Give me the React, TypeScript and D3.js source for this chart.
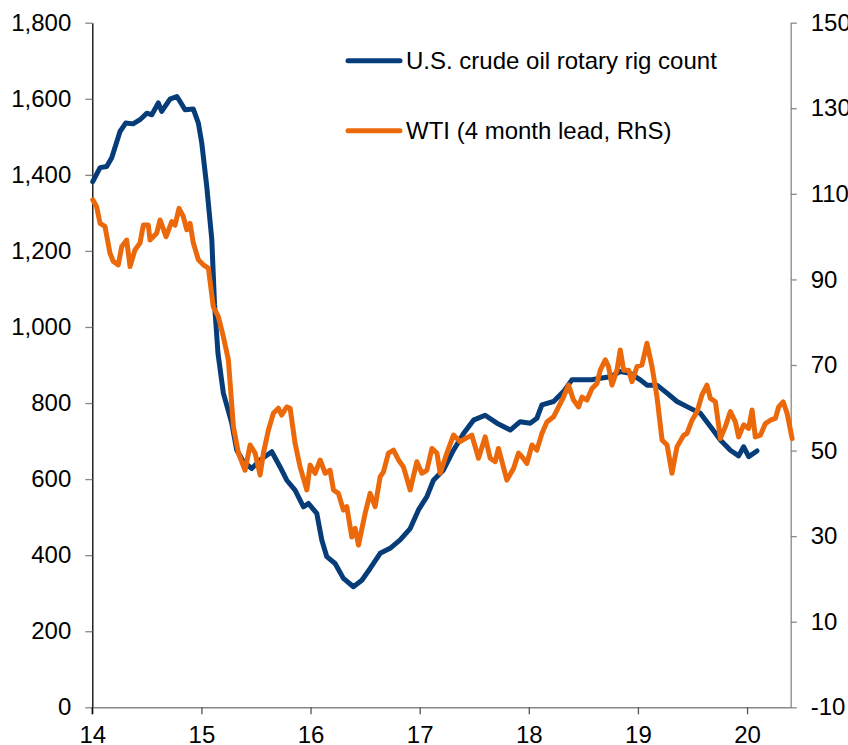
import * as d3 from 'd3';
import React, { useEffect, useRef } from 'react';

const rigYears = [14.004, 14.071, 14.132, 14.178, 14.254, 14.306, 14.373, 14.437, 14.499, 14.545, 14.605, 14.636, 14.712, 14.774, 14.804, 14.85, 14.926, 14.972, 15.003, 15.049, 15.095, 15.12, 15.152, 15.201, 15.278, 15.324, 15.384, 15.461, 15.538, 15.645, 15.721, 15.782, 15.858, 15.935, 15.98, 16.057, 16.103, 16.149, 16.225, 16.301, 16.393, 16.47, 16.546, 16.638, 16.729, 16.821, 16.913, 16.989, 17.066, 17.126, 17.218, 17.31, 17.402, 17.493, 17.6, 17.708, 17.83, 17.921, 18.013, 18.074, 18.12, 18.227, 18.318, 18.395, 18.502, 18.579, 18.655, 18.747, 18.838, 18.93, 19.022, 19.083, 19.175, 19.267, 19.358, 19.481, 19.572, 19.664, 19.756, 19.847, 19.923, 19.969, 20.015, 20.091];
const rigCount = [1382, 1419, 1422, 1445, 1514, 1536, 1534, 1545, 1562, 1558, 1589, 1567, 1599, 1606, 1593, 1571, 1573, 1536, 1484, 1369, 1230, 1060, 930, 826, 747, 676, 646, 628, 650, 672, 632, 597, 571, 527, 536, 510, 440, 396, 378, 339, 317, 334, 365, 405, 418, 440, 470, 519, 554, 597, 624, 676, 720, 755, 768, 747, 729, 751, 747, 760, 795, 804, 830, 861, 861, 861, 865, 869, 883, 878, 861, 847, 847, 826, 804, 786, 773, 738, 703, 676, 661, 685, 659, 674];

const wtiYears = [14.004, 14.04, 14.071, 14.116, 14.162, 14.193, 14.238, 14.27, 14.315, 14.346, 14.391, 14.437, 14.468, 14.513, 14.529, 14.59, 14.621, 14.676, 14.728, 14.758, 14.795, 14.834, 14.866, 14.896, 14.926, 14.972, 15.018, 15.064, 15.109, 15.155, 15.201, 15.247, 15.293, 15.339, 15.4, 15.446, 15.492, 15.538, 15.568, 15.614, 15.659, 15.705, 15.736, 15.782, 15.813, 15.858, 15.904, 15.966, 15.996, 16.042, 16.088, 16.134, 16.179, 16.21, 16.255, 16.301, 16.332, 16.378, 16.409, 16.439, 16.5, 16.546, 16.592, 16.638, 16.668, 16.714, 16.76, 16.806, 16.851, 16.913, 16.974, 17.02, 17.066, 17.112, 17.158, 17.188, 17.249, 17.31, 17.371, 17.417, 17.478, 17.539, 17.6, 17.646, 17.692, 17.722, 17.799, 17.86, 17.906, 17.936, 17.983, 18.029, 18.074, 18.12, 18.166, 18.227, 18.273, 18.318, 18.364, 18.41, 18.456, 18.487, 18.533, 18.579, 18.625, 18.655, 18.701, 18.731, 18.762, 18.808, 18.838, 18.869, 18.915, 18.946, 18.991, 19.037, 19.083, 19.129, 19.175, 19.221, 19.267, 19.312, 19.358, 19.419, 19.45, 19.496, 19.542, 19.587, 19.633, 19.664, 19.71, 19.756, 19.801, 19.847, 19.893, 19.923, 19.969, 20.015, 20.046, 20.076, 20.122, 20.168, 20.214, 20.259, 20.29, 20.331, 20.367, 20.413];
const wtiPrice = [108.6, 107.0, 103.1, 102.4, 96.1, 94.2, 93.4, 97.7, 99.2, 93.0, 96.9, 98.5, 102.7, 102.7, 99.2, 100.8, 103.9, 100.0, 103.5, 102.7, 106.6, 104.7, 101.6, 103.1, 98.5, 94.6, 93.4, 92.6, 83.6, 81.3, 76.6, 71.2, 55.6, 49.4, 45.4, 51.3, 49.4, 44.3, 49.4, 54.8, 58.7, 59.9, 58.3, 60.2, 59.9, 51.7, 46.2, 40.8, 46.6, 44.7, 47.8, 44.7, 45.4, 40.8, 40.0, 36.1, 36.9, 29.8, 31.8, 27.9, 35.3, 40.0, 36.9, 43.9, 45.0, 49.4, 50.1, 47.8, 46.2, 40.8, 47.4, 44.7, 45.4, 50.5, 49.4, 44.7, 49.4, 53.6, 52.1, 52.8, 53.6, 48.2, 53.2, 48.2, 47.4, 50.5, 43.1, 45.8, 49.4, 48.6, 47.0, 51.3, 50.1, 54.0, 56.7, 57.9, 60.2, 62.5, 65.3, 61.8, 60.2, 62.5, 61.8, 64.5, 65.7, 68.8, 71.2, 69.6, 65.3, 68.8, 73.5, 68.8, 68.8, 66.1, 69.6, 70.0, 75.1, 69.6, 62.5, 52.5, 51.3, 44.7, 50.9, 53.6, 54.0, 57.1, 59.1, 63.0, 65.3, 62.2, 61.4, 52.8, 55.6, 59.1, 56.7, 53.2, 56.0, 55.2, 59.5, 53.2, 53.6, 56.3, 57.1, 57.5, 60.2, 61.4, 58.7, 52.8];

const yearTicks = [14, 15, 16, 17, 18, 19, 20];
const leftTicks = [0, 200, 400, 600, 800, 1000, 1200, 1400, 1600, 1800];
const rightTicks = [-10, 10, 30, 50, 70, 90, 110, 130, 150];

const seriesNames = ['U.S. crude oil rotary rig count', 'WTI (4 month lead, RhS)'];
const seriesColors = ['#063d79', '#ec690b'];

const App = () => {
  const svgRef = useRef<SVGSVGElement | null>(null);

  useEffect(() => {
    if (!svgRef.current) return;
    const svg = d3.select(svgRef.current);
    svg.selectAll('*').remove();

    const font = 'Arial, "Liberation Sans", sans-serif';
    const fontSize = '24px';
    const x = d3.scaleLinear().domain([14, 20.4]).range([92.3, 790.7]);
    const yLeft = d3.scaleLinear().domain([0, 1800]).range([707.3, 22.7]);
    const yRight = d3.scaleLinear().domain([-10, 150]).range([707.3, 22.7]);

    // left axis
    const leftAxis = svg
      .append('g')
      .attr('transform', `translate(${x(14)},0)`)
      .call(d3.axisLeft(yLeft).tickValues(leftTicks).tickSize(7).tickSizeOuter(0).tickPadding(14).tickFormat(d3.format(',')));
    leftAxis.select('.domain').style('stroke', '#000').style('stroke-width', 1.3);
    leftAxis.selectAll('.tick line').style('stroke', '#888').style('stroke-width', 1.3);
    leftAxis.selectAll('.tick text').style('font-family', font).style('font-size', fontSize).style('fill', '#000');

    // right axis
    const rightAxis = svg
      .append('g')
      .attr('transform', `translate(${x(20.4)},0)`)
      .call(d3.axisRight(yRight).tickValues(rightTicks).tickSize(6).tickSizeOuter(0).tickPadding(14).tickFormat((d) => String(d)));
    rightAxis.select('.domain').style('stroke', '#888').style('stroke-width', 1.3);
    rightAxis.selectAll('.tick line').style('stroke', '#888').style('stroke-width', 1.3);
    rightAxis.selectAll('.tick text').style('font-family', font).style('font-size', fontSize).style('fill', '#000');

    // bottom axis
    const xAxis = svg
      .append('g')
      .attr('transform', `translate(0,${yLeft(0)})`)
      .call(d3.axisBottom(x).tickValues(yearTicks).tickSize(7).tickSizeOuter(0).tickPadding(12).tickFormat(d3.format('d')));
    xAxis.select('.domain').style('stroke', '#888').style('stroke-width', 1.5);
    xAxis.selectAll('.tick line').style('stroke', '#555').style('stroke-width', 1.3);
    xAxis.selectAll('.tick text').style('font-family', font).style('font-size', fontSize).style('fill', '#000');
    svg.append('line').attr('x1', x(14)).attr('x2', x(14)).attr('y1', yLeft(0)).attr('y2', yLeft(0) + 7).attr('stroke', '#000').attr('stroke-width', 1.3);

    const rigLine = d3
      .line<number>()
      .x((d, i) => x(rigYears[i]))
      .y((d) => yLeft(d));
    const wtiLine = d3
      .line<number>()
      .x((d, i) => x(wtiYears[i]))
      .y((d) => yRight(d));

    svg.append('path').attr('d', rigLine(rigCount)).attr('fill', 'none').attr('stroke', seriesColors[0]).attr('stroke-width', 5).attr('stroke-linejoin', 'round').attr('stroke-linecap', 'round');
    svg.append('path').attr('d', wtiLine(wtiPrice)).attr('fill', 'none').attr('stroke', seriesColors[1]).attr('stroke-width', 5).attr('stroke-linejoin', 'round').attr('stroke-linecap', 'round');

    // legend
    const legend = svg.append('g');
    seriesNames.forEach((name, i) => {
      const ly = 60.7 + i * 70;
      legend.append('line').attr('x1', 348).attr('x2', 400).attr('y1', ly).attr('y2', ly).attr('stroke', seriesColors[i]).attr('stroke-width', 5).attr('stroke-linecap', 'round');
      legend.append('text').attr('x', 406).attr('y', ly + 8).text(name).style('font-family', font).style('font-size', fontSize).style('fill', '#000');
    });
  }, []);

  return <svg ref={svgRef} width={848} height={745} style={{ position: 'absolute', left: 0, top: 0, background: '#fff' }} />;
};

export default App;
